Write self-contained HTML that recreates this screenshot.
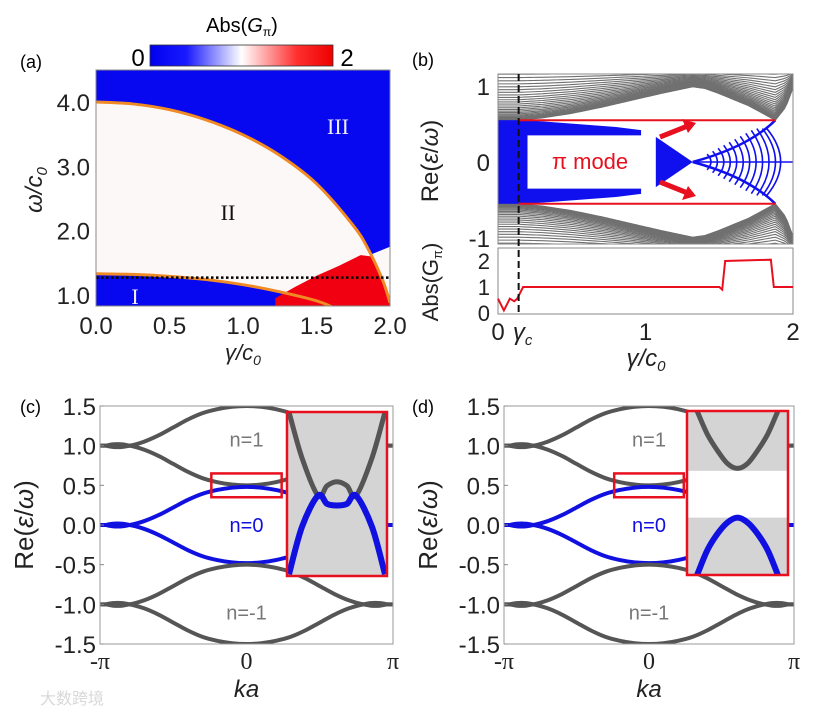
<!DOCTYPE html>
<html><head><meta charset="utf-8"><style>
body{margin:0;background:#fff;}
svg{display:block;font-family:"Liberation Sans","Noto Sans CJK SC",sans-serif;}
</style></head><body>
<svg id="fig" width="821" height="713" viewBox="0 0 821 713">
<defs>
<linearGradient id="cb" x1="0" x2="1" y1="0" y2="0">
<stop offset="0" stop-color="#0000ee"/><stop offset="0.2" stop-color="#1a1aff"/><stop offset="0.5" stop-color="#ffffff"/><stop offset="0.8" stop-color="#ff3030"/><stop offset="1" stop-color="#ee0000"/>
</linearGradient>
<clipPath id="clipA"><rect x="96" y="70" width="294" height="236"/></clipPath>
<clipPath id="clipB"><rect x="498" y="74" width="295" height="170"/></clipPath>
<clipPath id="clipC"><rect x="100" y="406" width="293" height="238"/></clipPath>
<clipPath id="clipD"><rect x="504" y="406" width="290" height="238"/></clipPath>
</defs>
<g id="root"></g>
</svg>
<script>
// ---------- DATA ----------
// panel (a)
const aGamma = [0,0.25,0.5,0.75,1.0,1.25,1.5,1.75,1.85,1.95,2.0];
const aUpper = [4.0,3.97,3.88,3.72,3.49,3.17,2.73,2.08,1.72,1.23,0.88];
const aLowerGamma = [0,0.25,0.5,0.75,1.0,1.25,1.5,1.62];
const aLower = [1.33,1.32,1.29,1.24,1.16,1.05,0.91,0.80];
const aRedGamma = [1.22,1.22,1.35,1.5,1.65,1.8,1.87];
const aRedOmega = [0.83,0.95,1.12,1.3,1.45,1.62,1.6];
const aDotted = 1.27;
const aXTicks = [0,0.5,1.0,1.5,2.0];
const aXLabels = ["0.0","0.5","1.0","1.5","2.0"];
const aYTicks = [1.0,2.0,3.0,4.0];
const aYLabels = ["1.0","2.0","3.0","4.0"];
// panel (b)
const bGamma = [0,0.14,0.3,0.5,0.7,0.9,1.1,1.32,1.4,1.5,1.7,1.88,1.95,2.0];
const bEdge = [0.55,0.55,0.58,0.64,0.72,0.81,0.9,0.99,0.97,0.9,0.74,0.55,0.72,0.98];
const bGammaC = 0.14;
const bWedgeGamma = [0.2,0.4,0.6,0.8,0.97];
const bWedgeTop = [0.55,0.52,0.49,0.46,0.42];
const bWedgeInner = 0.35;
const bFanVertex = [1.45,1.5,1.55,1.6,1.65,1.7,1.75,1.8,1.85,1.9,1.95,1.99];
const bAbsGamma = [0,0.04,0.08,0.11,0.13,0.17,0.3,1.5,1.52,1.54,1.85,1.87,1.88,2.0];
const bAbsVal = [0.55,0.1,0.55,0.45,0.55,1.0,1.0,1.0,0.9,2.0,2.05,1.0,1.0,1.0];
// panels (c),(d)
const kPi = [-1,-0.9,-0.8,-0.7,-0.6,-0.5,-0.4,-0.3,-0.2,-0.1,0,0.1,0.2,0.3,0.4,0.5,0.6,0.7,0.8,0.9,1];
const bandSplit = [0,0,0,0.05,0.13,0.23,0.33,0.41,0.46,0.49,0.5,0.49,0.46,0.41,0.33,0.23,0.13,0.05,0,0,0];
const bandCenters = [1,0,-1];
const bandColors = ["#555555","#1010e0","#555555"];
const cYTicks = [1.5,1.0,0.5,0.0,-0.5,-1.0,-1.5];
const cYLabels = ["1.5","1.0","0.5","0.0","-0.5","-1.0","-1.5"];
const cXTicks = [-1,0,1];
const cXLabels = ["-\u03c0","0","\u03c0"];
const insetCX = [0.02,0.15,0.31,0.4,0.5,0.6,0.69,0.85,0.98];
const insetCGray = [1.0,0.72,0.49,0.55,0.575,0.55,0.49,0.72,1.0];
const insetCBlue = [0.01,0.3,0.49,0.44,0.43,0.44,0.49,0.3,0.01];
const insetDX = [0.1,0.2,0.3,0.4,0.5,0.6,0.7,0.8,0.9];
const insetDGray = [1.0,0.86,0.76,0.68,0.65,0.68,0.76,0.86,1.0];
const insetDBlue = [0.0,0.15,0.25,0.32,0.35,0.32,0.25,0.15,0.0];

// ---------- HELPERS ----------
const NS="http://www.w3.org/2000/svg";
const root=document.getElementById('root');
function el(tag,attrs,parent,text){const e=document.createElementNS(NS,tag);for(const k in attrs)e.setAttribute(k,attrs[k]);if(text!==undefined)e.textContent=text;(parent||root).appendChild(e);return e;}
function lin(d0,d1,r0,r1){return v=>r0+(v-d0)/(d1-d0)*(r1-r0);}
function smooth(pts){let d=`M${pts[0][0]},${pts[0][1]}`;for(let i=0;i<pts.length-1;i++){const p0=pts[Math.max(0,i-1)],p1=pts[i],p2=pts[i+1],p3=pts[Math.min(pts.length-1,i+2)];const c1=[p1[0]+(p2[0]-p0[0])/6,p1[1]+(p2[1]-p0[1])/6],c2=[p2[0]-(p3[0]-p1[0])/6,p2[1]-(p3[1]-p1[1])/6];d+=` C${c1[0]},${c1[1]} ${c2[0]},${c2[1]} ${p2[0]},${p2[1]}`;}return d;}
function interp(xs,ys,x){if(x<=xs[0])return ys[0];for(let i=0;i<xs.length-1;i++){if(x<=xs[i+1]){const t=(x-xs[i])/(xs[i+1]-xs[i]);return ys[i]+t*(ys[i+1]-ys[i]);}}return ys[ys.length-1];}
const RE='Re(<tspan font-style="italic">\u03b5</tspan>/<tspan font-style="italic">\u03c9</tspan>)';

// ---------- PANEL A ----------
const ax=lin(0,2,96,390), ay=lin(1,4,295,102);
let t;
t=el('text',{x:20,y:68,'font-size':18,fill:'#000'},root,'(a)');

t=el('text',{x:242,y:32,'font-size':20,'text-anchor':'middle'},root,'');

t.innerHTML='Abs(<tspan font-style="italic">G</tspan><tspan font-size="12" dy="4">\u03c0</tspan><tspan dy="-4">)</tspan>';
t=el('rect',{x:150,y:45,width:183,height:21,fill:'url(#cb)',stroke:'#333','stroke-width':0.8});

t=el('text',{x:138,y:66,'font-size':24,'text-anchor':'middle'},root,'0');

t=el('text',{x:347,y:66,'font-size':24,'text-anchor':'middle'},root,'2');

const gA=el('g',{'clip-path':'url(#clipA)'});

el('rect',{x:96,y:70,width:294,height:236,fill:'#0808f0'},gA);
let pts=aGamma.map((g,i)=>[ax(g),ay(aUpper[i])]);
let dW=smooth(pts)+` L${ax(2.0)},${ay(0.6)} L${ax(0)},${ay(0.6)} Z`;
t=el('path',{d:dW,fill:'#fdf8f8'},gA);

t=el('path',{d:`M${ax(1.86)},${ay(1.62)} L${ax(2.0)},${ay(1.75)} L${ax(2.0)},${ay(0.6)} L${ax(1.95)},${ay(0.6)} Z`,fill:'#fdf8f8'},gA);
pts=aLowerGamma.map((g,i)=>[ax(g),ay(aLower[i])]);
t=el('path',{d:smooth(pts)+` L${ax(1.7)},${ay(0.6)} L${ax(0)},${ay(0.6)} Z`,fill:'#0808f0'},gA);

let rp=aRedGamma.map((g,i)=>`${ax(g)},${ay(aRedOmega[i])}`);
for(let g=1.88;g<=2.0;g+=0.02){rp.push(`${ax(g)},${ay(interp(aGamma,aUpper,g))}`);}
rp.push(`${ax(2.0)},${ay(0.6)}`,`${ax(1.22)},${ay(0.6)}`);
t=el('polygon',{points:rp.join(' '),fill:'#f00010'},gA);

pts=aGamma.map((g,i)=>[ax(g),ay(aUpper[i])]);
t=el('path',{d:smooth(pts),fill:'none',stroke:'#f08a24','stroke-width':3},gA);

pts=aLowerGamma.map((g,i)=>[ax(g),ay(aLower[i])]);
t=el('path',{d:smooth(pts),fill:'none',stroke:'#f08a24','stroke-width':3},gA);

t=el('line',{x1:96,x2:390,y1:ay(aDotted),y2:ay(aDotted),stroke:'#000','stroke-width':2.5,'stroke-dasharray':'2.5,2.5'},gA);

el('rect',{x:96,y:70,width:294,height:236,fill:'none',stroke:'#888','stroke-width':1});
t=el('text',{x:338,y:134,'font-size':22,fill:'#eee','font-family':'Liberation Serif','text-anchor':'middle'},root,'III');

t=el('text',{x:228,y:220,'font-size':22,fill:'#111','font-family':'Liberation Serif','text-anchor':'middle'},root,'II');

t=el('text',{x:135,y:304,'font-size':22,fill:'#eee','font-family':'Liberation Serif','text-anchor':'middle'},root,'I');

aXTicks.forEach((v,i)=>{t=el('text',{x:ax(v),y:334,'font-size':24,'text-anchor':'middle',fill:'#222'},root,aXLabels[i]);
});
aYTicks.forEach((v,i)=>{t=el('text',{x:90,y:ay(v)+9,'font-size':24,'text-anchor':'end',fill:'#222'},root,aYLabels[i]);
});
t=el('text',{x:243,y:360,'font-size':22,'text-anchor':'middle','font-style':'italic',fill:'#222'},root,'');
t.innerHTML='\u03b3/c<tspan font-size="14" dy="5">0</tspan>';

t=el('text',{x:0,y:0,'font-size':24,'text-anchor':'middle','font-style':'italic',fill:'#222',transform:'translate(42,190) rotate(-90)'},root,'');
t.innerHTML='\u03c9/c<tspan font-size="15" dy="5">0</tspan>';


// ---------- PANEL B ----------
const bx=lin(0,2,498,793), by=lin(-1,1,238,86), by2=lin(0,2,313,261);
t=el('text',{x:412,y:66,'font-size':18},root,'(b)');

const gB=el('g',{'clip-path':'url(#clipB)'});

const N=26;
for(let s of [1,-1]){for(let j=0;j<=N;j++){const f=j/N;const p=[];for(let g=0;g<=2.0001;g+=0.02){const e=interp(bGamma,bEdge,g);p.push(`${bx(g)},${by(s*(e+(1.2-e)*(f*f*0.85+f*0.15)))}`);}
t=el('polyline',{points:p.join(' '),fill:'none',stroke:'#707070','stroke-width':1.1},gB);
}}
t=el('rect',{x:bx(0),y:by(0.55),width:bx(0.2)-bx(0),height:by(-0.55)-by(0.55),fill:'#1010ee'},gB);

for(let s of [1,-1]){const p=bWedgeGamma.map((g,i)=>`${bx(g)},${by(s*bWedgeTop[i])}`);p.push(`${bx(0.97)},${by(s*bWedgeInner)}`,`${bx(0.2)},${by(s*bWedgeInner)}`);
t=el('polygon',{points:p.join(' '),fill:'#1010ee'},gB);
}
t=el('polygon',{points:`${bx(1.07)},${by(0.33)} ${bx(1.32)},${by(0)} ${bx(1.07)},${by(-0.33)}`,fill:'#1010ee'},gB);

for(let s of [1,-1]){t=el('path',{d:`M${bx(1.32)},${by(0)} Q${bx(1.7)},${by(s*0.2)} ${bx(1.88)},${by(s*0.55)}`,fill:'none',stroke:'#1010ee','stroke-width':2.5},gB);
}
bFanVertex.forEach(v=>{const h=0.55*Math.min(1,(v-1.32)/0.56);const g0=1.32+(v-1.32)*0.75;
t=el('path',{d:`M${bx(g0)},${by(h*0.8)} Q${bx(v+0.02)},${by(0)} ${bx(g0)},${by(-h*0.8)}`,fill:'none',stroke:'#1010ee','stroke-width':1.6},gB);
});
el('line',{x1:bx(1.32),x2:bx(2),y1:by(0),y2:by(0),stroke:'#1010ee','stroke-width':1.5},gB);
for(let s of [1,-1]){t=el('line',{x1:bx(bGammaC),x2:bx(1.88),y1:by(s*0.55),y2:by(s*0.55),stroke:'#e8101e','stroke-width':2},gB);
}
el('rect',{x:498,y:74,width:295,height:170,fill:'none',stroke:'#888','stroke-width':1});
t=el('text',{x:590,y:169,'font-size':22,fill:'#e8101e','text-anchor':'middle'},root,'\u03c0 mode');

[[660,137,696,123],[660,182,696,196]].forEach(a=>{t=el('line',{x1:a[0],y1:a[1],x2:a[2]-6,y2:a[3]+(a[3]<150?2:-2),stroke:'#e8101e','stroke-width':5},root);

const up=a[3]<a[1];el('polygon',{points:up?`${a[2]},${a[3]} ${a[2]-14},${a[3]-4} ${a[2]-8},${a[3]+10}`:`${a[2]},${a[3]} ${a[2]-14},${a[3]+4} ${a[2]-8},${a[3]-10}`,fill:'#e8101e'});});
t=el('rect',{x:498,y:248,width:295,height:66,fill:'#fff',stroke:'#888','stroke-width':1});

t=el('polyline',{points:bAbsGamma.map((g,i)=>`${bx(g)},${by2(bAbsVal[i])}`).join(' '),fill:'none',stroke:'#e8101e','stroke-width':2},root);

t=el('line',{x1:bx(bGammaC),x2:bx(bGammaC),y1:74,y2:314,stroke:'#111','stroke-width':2,'stroke-dasharray':'7,4'});

[[1,'1'],[0,'0'],[-1,'-1']].forEach(v=>{t=el('text',{x:490,y:by(v[0])+9,'font-size':24,'text-anchor':'end',fill:'#222'},root,v[1]);});
[[2,'2'],[1,'1'],[0,'0']].forEach(v=>{t=el('text',{x:490,y:by2(v[0])+8,'font-size':22,'text-anchor':'end',fill:'#222'},root,v[1]);});
[[0,'0'],[1,'1'],[2,'2']].forEach(v=>{t=el('text',{x:bx(v[0]),y:340,'font-size':24,'text-anchor':'middle',fill:'#222'},root,v[1]);});
t=el('text',{x:bx(bGammaC)+4,y:340,'font-size':24,'font-style':'italic','text-anchor':'middle',fill:'#222'},root,'');
t.innerHTML='\u03b3<tspan font-size="15" dy="5">c</tspan>';

t=el('text',{x:646,y:366,'font-size':24,'text-anchor':'middle','font-style':'italic',fill:'#222'},root,'');
t.innerHTML='\u03b3/c<tspan font-size="15" dy="5">0</tspan>';

t=el('text',{x:0,y:0,'font-size':24,'text-anchor':'middle',fill:'#222',transform:'translate(438,161) rotate(-90)'},root,'');
t.innerHTML=RE;

t=el('text',{x:0,y:0,'font-size':22,'text-anchor':'middle',fill:'#222',transform:'translate(438,282) rotate(-90)'},root,'');
t.innerHTML='Abs(G<tspan font-size="13" dy="4">\u03c0</tspan><tspan dy="-4">)</tspan>';


// ---------- PANELS C, D ----------
function bandPanel(x0,x1,label,labelX,clip,inset,variant){
  const cx=lin(-1,1,x0,x1), cy=lin(-1.5,1.5,644,406);
  let t=el('text',{x:labelX,y:413,'font-size':18},root,label);
  
  const g=el('g',{'clip-path':`url(#${clip})`});
  
  bandCenters.forEach((c,bi)=>{[1,-1].forEach(s=>{const p=kPi.map((k,i)=>[cx(k),cy(c+s*bandSplit[i]*(bi===1?0.96:1))]);
    t=el('path',{d:smooth(p),fill:'none',stroke:bandColors[bi],'stroke-width':4},g);
    });
    el('ellipse',{cx:cx(-0.88),cy:cy(c),rx:14,ry:3.5,fill:bandColors[bi]},g);
    el('ellipse',{cx:cx(0.88),cy:cy(c),rx:14,ry:3.5,fill:bandColors[bi]},g);});
  el('rect',{x:x0,y:406,width:x1-x0,height:238,fill:'none',stroke:'#999','stroke-width':1});
  cYTicks.forEach((v,i)=>{el('line',{x1:x0,x2:x0+4,y1:cy(v),y2:cy(v),stroke:'#888'});
    t=el('text',{x:x0-4,y:cy(v)+9,'font-size':24,'text-anchor':'end',fill:'#222'},root,cYLabels[i]);
    });
  cXTicks.forEach((v,i)=>{t=el('text',{x:cx(v),y:669,'font-size':24,'text-anchor':'middle',fill:'#222','font-family':'Liberation Serif'},root,cXLabels[i]);
    });
  t=el('text',{x:cx(0),y:697,'font-size':24,'text-anchor':'middle','font-style':'italic',fill:'#222'},root,'ka');
  
  t=el('text',{x:0,y:0,'font-size':26,'text-anchor':'middle',fill:'#222',transform:`translate(${x0-67},525) rotate(-90)`},root,'');
  t.innerHTML=RE;
  
  [['n=1',1.0,'#777'],['n=0',0.0,'#1010e0'],['n=-1',-1.0,'#777']].forEach(n=>{t=el('text',{x:cx(0),y:cy(n[1])+(n[1]===1?-6:n[1]===-1?8:0)+7,'font-size':20,'text-anchor':'middle',fill:n[2]},root,n[0]);
    });
  t=el('rect',{x:cx(-0.24),y:cy(0.65),width:cx(0.24)-cx(-0.24),height:cy(0.35)-cy(0.65),fill:'none',stroke:'#e8101e','stroke-width':2.5});
  
  const ix=inset[0],iy=inset[1],iw=inset[2],ih=inset[3];
  const fx=lin(0,1,ix,ix+iw), fy=lin(0,1,iy+ih,iy);
  if(variant==='c'){el('rect',{x:ix,y:iy,width:iw,height:ih,fill:'#d4d4d4'});
    t=el('path',{d:smooth(insetCX.map((x,i)=>[fx(x),fy(insetCGray[i])])),fill:'none',stroke:'#555','stroke-width':5});
    
    t=el('path',{d:smooth(insetCX.map((x,i)=>[fx(x),fy(insetCBlue[i])])),fill:'none',stroke:'#1010e0','stroke-width':6});
    
  } else {el('rect',{x:ix,y:iy,width:iw,height:ih,fill:'#fff'});
    el('rect',{x:ix,y:iy,width:iw,height:fy(0.635)-iy,fill:'#d4d4d4'});
    el('rect',{x:ix,y:fy(0.35),width:iw,height:iy+ih-fy(0.35),fill:'#d4d4d4'});
    t=el('path',{d:smooth(insetDX.map((x,i)=>[fx(x),fy(insetDGray[i])])),fill:'none',stroke:'#555','stroke-width':5});
    
    t=el('path',{d:smooth(insetDX.map((x,i)=>[fx(x),fy(insetDBlue[i])])),fill:'none',stroke:'#1010e0','stroke-width':6});
    }
  t=el('rect',{x:ix,y:iy,width:iw,height:ih,fill:'none',stroke:'#e8101e','stroke-width':2.5});
  
}
bandPanel(100,393,'(c)',20,'clipC',[287,412,100,164],'c');
bandPanel(504,794,'(d)',412,'clipD',[687,411,101,164],'d');
t=el('text',{x:40,y:704,'font-size':16,fill:'#d8d8d8'},root,'\u5927\u6570\u8de8\u5883');

</script>
</body></html>
